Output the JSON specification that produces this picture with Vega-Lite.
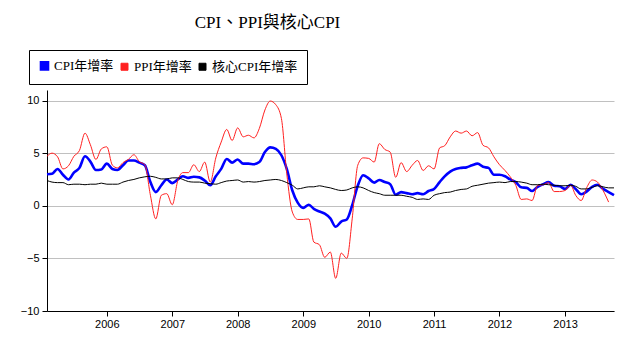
{
  "$schema": "https://vega.github.io/schema/vega-lite/v6.json",
  "width": 567,
  "height": 221,
  "autosize": {"type": "none"},
  "padding": {"left": 47, "top": 90, "right": 12, "bottom": 40},
  "background": "white",
  "title": {"text": "CPI、PPI與核心CPI", "font": "Liberation Serif, Noto Sans CJK TC", "fontSize": 17, "fontWeight": "normal", "color": "black", "anchor": "middle", "frame": "group", "dx": -63, "offset": 18},
  "data": {"values": [
    {"date": "2005-02-01", "CPI年增率": 3.0, "PPI年增率": 4.7, "核心CPI年增率": 2.4},
    {"date": "2005-03-01", "CPI年增率": 3.05, "PPI年增率": 5.0, "核心CPI年增率": 2.25},
    {"date": "2005-04-01", "CPI年增率": 3.5, "PPI年增率": 4.65, "核心CPI年增率": 2.2},
    {"date": "2005-05-01", "CPI年增率": 2.95, "PPI年增率": 3.5, "核心CPI年增率": 2.2},
    {"date": "2005-06-01", "CPI年增率": 2.5, "PPI年增率": 3.8, "核心CPI年增率": 2.0},
    {"date": "2005-07-01", "CPI年增率": 3.15, "PPI年增率": 4.7, "核心CPI年增率": 2.05},
    {"date": "2005-08-01", "CPI年增率": 3.6, "PPI年增率": 5.25, "核心CPI年增率": 2.05},
    {"date": "2005-09-01", "CPI年增率": 4.7, "PPI年增率": 6.9, "核心CPI年增率": 2.0},
    {"date": "2005-10-01", "CPI年增率": 4.2, "PPI年增率": 5.8, "核心CPI年增率": 2.05},
    {"date": "2005-11-01", "CPI年增率": 3.4, "PPI年增率": 4.4, "核心CPI年增率": 2.05},
    {"date": "2005-12-01", "CPI年增率": 3.45, "PPI年增率": 5.4, "核心CPI年增率": 2.15},
    {"date": "2006-01-01", "CPI年增率": 4.0, "PPI年增率": 5.6, "核心CPI年增率": 2.05},
    {"date": "2006-02-01", "CPI年增率": 3.5, "PPI年增率": 3.85, "核心CPI年增率": 2.05},
    {"date": "2006-03-01", "CPI年增率": 3.4, "PPI年增率": 3.6, "核心CPI年增率": 2.05},
    {"date": "2006-04-01", "CPI年增率": 3.85, "PPI年增率": 4.1, "核心CPI年增率": 2.25},
    {"date": "2006-05-01", "CPI年增率": 4.3, "PPI年增率": 4.4, "核心CPI年增率": 2.4},
    {"date": "2006-06-01", "CPI年增率": 4.3, "PPI年增率": 4.85, "核心CPI年增率": 2.5},
    {"date": "2006-07-01", "CPI年增率": 4.1, "PPI年增率": 4.2, "核心CPI年增率": 2.65},
    {"date": "2006-08-01", "CPI年增率": 3.85, "PPI年增率": 3.9, "核心CPI年增率": 2.75},
    {"date": "2006-09-01", "CPI年增率": 2.25, "PPI年增率": 1.0, "核心CPI年增率": 2.8},
    {"date": "2006-10-01", "CPI年增率": 1.3, "PPI年增率": -1.25, "核心CPI年增率": 2.7},
    {"date": "2006-11-01", "CPI年增率": 1.95, "PPI年增率": 1.0, "核心CPI年增率": 2.55},
    {"date": "2006-12-01", "CPI年增率": 2.5, "PPI年增率": 1.15, "核心CPI年增率": 2.55},
    {"date": "2007-01-01", "CPI年增率": 2.15, "PPI年增率": 0.1, "核心CPI年增率": 2.65},
    {"date": "2007-02-01", "CPI年增率": 2.5, "PPI年增率": 2.4, "核心CPI年增率": 2.65},
    {"date": "2007-03-01", "CPI年增率": 2.8, "PPI年增率": 3.15, "核心CPI年增率": 2.5},
    {"date": "2007-04-01", "CPI年增率": 2.65, "PPI年增率": 3.15, "核心CPI年增率": 2.3},
    {"date": "2007-05-01", "CPI年增率": 2.75, "PPI年增率": 3.9, "核心CPI年增率": 2.25},
    {"date": "2007-06-01", "CPI年增率": 2.7, "PPI年增率": 3.25, "核心CPI年增率": 2.25},
    {"date": "2007-07-01", "CPI年增率": 2.4, "PPI年增率": 4.15, "核心CPI年增率": 2.15},
    {"date": "2007-08-01", "CPI年增率": 1.95, "PPI年增率": 2.25, "核心CPI年增率": 2.1},
    {"date": "2007-09-01", "CPI年增率": 2.8, "PPI年增率": 4.55, "核心CPI年增率": 2.05},
    {"date": "2007-10-01", "CPI年增率": 3.5, "PPI年增率": 6.05, "核心CPI年增率": 2.2},
    {"date": "2007-11-01", "CPI年增率": 4.45, "PPI年增率": 7.25, "核心CPI年增率": 2.35},
    {"date": "2007-12-01", "CPI年增率": 4.1, "PPI年增率": 6.2, "核心CPI年增率": 2.4},
    {"date": "2008-01-01", "CPI年增率": 4.4, "PPI年增率": 7.4, "核心CPI年增率": 2.45},
    {"date": "2008-02-01", "CPI年增率": 4.0, "PPI年增率": 6.55, "核心CPI年增率": 2.25},
    {"date": "2008-03-01", "CPI年增率": 4.0, "PPI年增率": 6.7, "核心CPI年增率": 2.3},
    {"date": "2008-04-01", "CPI年增率": 3.95, "PPI年增率": 6.45, "核心CPI年增率": 2.25},
    {"date": "2008-05-01", "CPI年增率": 4.15, "PPI年增率": 7.35, "核心CPI年增率": 2.3},
    {"date": "2008-06-01", "CPI年增率": 5.1, "PPI年增率": 9.1, "核心CPI年增率": 2.4},
    {"date": "2008-07-01", "CPI年增率": 5.55, "PPI年增率": 9.95, "核心CPI年增率": 2.45},
    {"date": "2008-08-01", "CPI年增率": 5.4, "PPI年增率": 9.6, "核心CPI年增率": 2.5},
    {"date": "2008-09-01", "CPI年增率": 4.8, "PPI年增率": 8.3, "核心CPI年增率": 2.4},
    {"date": "2008-10-01", "CPI年增率": 3.5, "PPI年增率": 3.05, "核心CPI年增率": 2.2},
    {"date": "2008-11-01", "CPI年增率": 1.45, "PPI年增率": -0.6, "核心CPI年增率": 1.95},
    {"date": "2008-12-01", "CPI年增率": 0.3, "PPI年增率": -1.3, "核心CPI年增率": 1.6},
    {"date": "2009-01-01", "CPI年增率": -0.2, "PPI年增率": -1.3, "核心CPI年增率": 1.7},
    {"date": "2009-02-01", "CPI年增率": 0.1, "PPI年增率": -1.25, "核心CPI年增率": 1.8},
    {"date": "2009-03-01", "CPI年增率": -0.3, "PPI年增率": -3.45, "核心CPI年增率": 1.8},
    {"date": "2009-04-01", "CPI年增率": -0.55, "PPI年增率": -3.7, "核心CPI年增率": 1.9},
    {"date": "2009-05-01", "CPI年增率": -0.75, "PPI年增率": -4.9, "核心CPI年增率": 1.8},
    {"date": "2009-06-01", "CPI年增率": -1.2, "PPI年增率": -4.4, "核心CPI年增率": 1.7},
    {"date": "2009-07-01", "CPI年增率": -2.0, "PPI年增率": -6.9, "核心CPI年增率": 1.55},
    {"date": "2009-08-01", "CPI年增率": -1.5, "PPI年增率": -4.5, "核心CPI年增率": 1.45},
    {"date": "2009-09-01", "CPI年增率": -1.3, "PPI年增率": -5.0, "核心CPI年增率": 1.5},
    {"date": "2009-10-01", "CPI年增率": 0.05, "PPI年增率": -1.25, "核心CPI年增率": 1.7},
    {"date": "2009-11-01", "CPI年增率": 1.9, "PPI年增率": 3.85, "核心CPI年增率": 1.8},
    {"date": "2009-12-01", "CPI年增率": 2.9, "PPI年增率": 4.55, "核心CPI年增率": 1.7},
    {"date": "2010-01-01", "CPI年增率": 2.6, "PPI年增率": 4.5, "核心CPI年增率": 1.45},
    {"date": "2010-02-01", "CPI年增率": 2.2, "PPI年增率": 4.15, "核心CPI年增率": 1.25},
    {"date": "2010-03-01", "CPI年增率": 2.45, "PPI年增率": 5.9, "核心CPI年增率": 1.15},
    {"date": "2010-04-01", "CPI年增率": 2.25, "PPI年增率": 5.35, "核心CPI年增率": 1.0},
    {"date": "2010-05-01", "CPI年增率": 2.05, "PPI年增率": 5.1, "核心CPI年增率": 1.0},
    {"date": "2010-06-01", "CPI年增率": 1.05, "PPI年增率": 2.7, "核心CPI年增率": 1.0},
    {"date": "2010-07-01", "CPI年增率": 1.3, "PPI年增率": 4.1, "核心CPI年增率": 1.0},
    {"date": "2010-08-01", "CPI年增率": 1.2, "PPI年增率": 3.25, "核心CPI年增率": 0.9},
    {"date": "2010-09-01", "CPI年增率": 1.1, "PPI年增率": 3.85, "核心CPI年增率": 0.8},
    {"date": "2010-10-01", "CPI年增率": 1.2, "PPI年增率": 4.3, "核心CPI年增率": 0.6},
    {"date": "2010-11-01", "CPI年增率": 1.1, "PPI年增率": 3.35, "核心CPI年增率": 0.65},
    {"date": "2010-12-01", "CPI年增率": 1.4, "PPI年增率": 3.8, "核心CPI年增率": 0.6},
    {"date": "2011-01-01", "CPI年增率": 1.6, "PPI年增率": 3.5, "核心CPI年增率": 1.0},
    {"date": "2011-02-01", "CPI年增率": 2.25, "PPI年增率": 5.5, "核心CPI年增率": 1.15},
    {"date": "2011-03-01", "CPI年增率": 2.8, "PPI年增率": 5.7, "核心CPI年增率": 1.25},
    {"date": "2011-04-01", "CPI年增率": 3.25, "PPI年增率": 6.55, "核心CPI年增率": 1.3},
    {"date": "2011-05-01", "CPI年增率": 3.5, "PPI年增率": 7.1, "核心CPI年增率": 1.45},
    {"date": "2011-06-01", "CPI年增率": 3.6, "PPI年增率": 6.9, "核心CPI年增率": 1.55},
    {"date": "2011-07-01", "CPI年增率": 3.65, "PPI年增率": 7.1, "核心CPI年增率": 1.6},
    {"date": "2011-08-01", "CPI年增率": 3.85, "PPI年增率": 6.65, "核心CPI年增率": 1.85},
    {"date": "2011-09-01", "CPI年增率": 4.0, "PPI年增率": 6.95, "核心CPI年增率": 1.95},
    {"date": "2011-10-01", "CPI年增率": 3.7, "PPI年增率": 5.75, "核心CPI年增率": 2.05},
    {"date": "2011-11-01", "CPI年增率": 3.6, "PPI年增率": 5.5, "核心CPI年增率": 2.15},
    {"date": "2011-12-01", "CPI年增率": 2.95, "PPI年增率": 4.65, "核心CPI年增率": 2.2},
    {"date": "2012-01-01", "CPI年增率": 2.95, "PPI年增率": 3.9, "核心CPI年增率": 2.25},
    {"date": "2012-02-01", "CPI年增率": 2.8, "PPI年增率": 3.35, "核心CPI年增率": 2.2},
    {"date": "2012-03-01", "CPI年增率": 2.5, "PPI年增率": 2.75, "核心CPI年增率": 2.3},
    {"date": "2012-04-01", "CPI年增率": 2.25, "PPI年增率": 1.95, "核心CPI年增率": 2.3},
    {"date": "2012-05-01", "CPI年增率": 1.75, "PPI年增率": 0.6, "核心CPI年增率": 2.25},
    {"date": "2012-06-01", "CPI年增率": 1.7, "PPI年增率": 0.65, "核心CPI年增率": 2.15},
    {"date": "2012-07-01", "CPI年增率": 1.4, "PPI年增率": 0.5, "核心CPI年增率": 2.0},
    {"date": "2012-08-01", "CPI年增率": 1.8, "PPI年增率": 1.95, "核心CPI年增率": 2.0},
    {"date": "2012-09-01", "CPI年增率": 2.05, "PPI年增率": 2.0, "核心CPI年增率": 2.05},
    {"date": "2012-10-01", "CPI年增率": 2.25, "PPI年增率": 2.2, "核心CPI年增率": 2.0},
    {"date": "2012-11-01", "CPI年增率": 1.9, "PPI年增率": 1.35, "核心CPI年增率": 1.95},
    {"date": "2012-12-01", "CPI年增率": 1.85, "PPI年增率": 1.35, "核心CPI年增率": 1.9},
    {"date": "2013-01-01", "CPI年增率": 1.6, "PPI年增率": 1.45, "核心CPI年增率": 1.9},
    {"date": "2013-02-01", "CPI年增率": 2.0, "PPI年增率": 1.95, "核心CPI年增率": 1.95},
    {"date": "2013-03-01", "CPI年增率": 1.6, "PPI年增率": 1.0, "核心CPI年增率": 1.85},
    {"date": "2013-04-01", "CPI年增率": 1.1, "PPI年增率": 0.5, "核心CPI年增率": 1.6},
    {"date": "2013-05-01", "CPI年增率": 1.35, "PPI年增率": 1.7, "核心CPI年增率": 1.6},
    {"date": "2013-06-01", "CPI年增率": 1.8, "PPI年增率": 2.45, "核心CPI年增率": 1.75},
    {"date": "2013-07-01", "CPI年增率": 2.0, "PPI年增率": 2.25, "核心CPI年增率": 1.9},
    {"date": "2013-08-01", "CPI年增率": 1.6, "PPI年增率": 1.45, "核心CPI年增率": 1.8},
    {"date": "2013-09-01", "CPI年增率": 1.3, "PPI年增率": 0.35, "核心CPI年增率": 1.7},
    {"date": "2013-10-01", "CPI年增率": 1.0, "PPI年增率": null, "核心CPI年增率": 1.7}
  ]},
  "transform": [{"fold": ["CPI年增率", "PPI年增率", "核心CPI年增率"], "as": ["series", "value"]}],
  "mark": {"type": "line", "interpolate": "monotone"},
  "encoding": {
    "x": {
      "field": "date", "type": "temporal",
      "scale": {"type": "utc", "domain": [{"year": 2005, "month": 2, "date": 1, "utc": true}, {"year": 2013, "month": 10, "date": 1, "utc": true}]},
      "axis": {
        "title": null, "format": "%Y", "grid": false,
        "values": [{"year": 2006, "utc": true}, {"year": 2007, "utc": true}, {"year": 2008, "utc": true}, {"year": 2009, "utc": true}, {"year": 2010, "utc": true}, {"year": 2011, "utc": true}, {"year": 2012, "utc": true}, {"year": 2013, "utc": true}],
        "domainColor": "black", "tickColor": "black", "tickSize": 5, "labelPadding": 2,
        "labelFont": "Liberation Sans", "labelFontSize": 11, "labelColor": "black"
      }
    },
    "y": {
      "field": "value", "type": "quantitative",
      "scale": {"domain": [-10, 11], "nice": false, "zero": false},
      "axis": {
        "title": null, "values": [-10, -5, 0, 5, 10], "grid": true, "gridColor": "#c0c0c0",
        "domainColor": "black", "tickColor": "black", "tickSize": 5, "labelPadding": 3,
        "labelFont": "Liberation Sans", "labelFontSize": 11, "labelColor": "black"
      }
    },
    "color": {
      "field": "series", "type": "nominal",
      "scale": {"domain": ["CPI年增率", "PPI年增率", "核心CPI年增率"], "range": ["#0000ff", "#ff2020", "#000000"]},
      "legend": {
        "title": null, "orient": "none", "legendX": -18, "legendY": -40,
        "direction": "horizontal", "columns": 3,
        "strokeColor": "black", "fillColor": "white", "padding": 9,
        "symbolType": "square", "symbolSize": 49,
        "labelFont": "Liberation Serif, Noto Sans CJK TC", "labelFontSize": 13, "labelColor": "black",
        "labelOffset": 3, "columnPadding": 4,
        "encode": {"symbols": {"update": {"fill": {"scale": "color", "field": "value"}, "stroke": {"value": "black"}, "strokeWidth": {"value": 1}, "opacity": {"value": 1}}}}
      }
    },
    "strokeWidth": {
      "field": "series", "type": "nominal",
      "scale": {"type": "ordinal", "domain": ["CPI年增率", "PPI年增率", "核心CPI年增率"], "range": [2.6, 1, 1]},
      "legend": null
    }
  },
  "config": {"view": {"stroke": null}}
}
